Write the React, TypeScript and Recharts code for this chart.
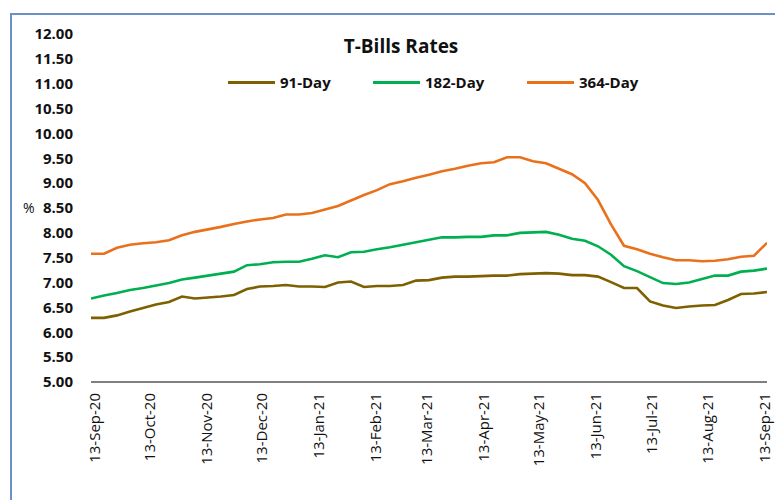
import React from 'react'
import { LineChart, Line, XAxis, YAxis } from 'recharts'

// weekly auction results, Sep-2020 .. Sep-2021
const rate91 = [
    6.29, 6.29, 6.34, 6.42, 6.49, 6.56, 6.61, 6.72, 6.68, 6.70,
    6.72, 6.75, 6.87, 6.92, 6.93, 6.95, 6.92, 6.92, 6.91, 7.00,
    7.02, 6.91, 6.93, 6.93, 6.95, 7.04, 7.05, 7.10, 7.12, 7.12,
    7.13, 7.14, 7.14, 7.17, 7.18, 7.19, 7.18, 7.15, 7.15, 7.12,
    7.01, 6.89, 6.89, 6.62, 6.54, 6.49, 6.52, 6.54, 6.55, 6.65,
    6.77, 6.78, 6.81,
]
const rate182 = [
    6.68, 6.74, 6.79, 6.85, 6.89, 6.94, 6.99, 7.06, 7.10, 7.14,
    7.18, 7.22, 7.35, 7.37, 7.41, 7.42, 7.42, 7.48, 7.55, 7.51,
    7.61, 7.62, 7.67, 7.71, 7.76, 7.81, 7.86, 7.91, 7.91, 7.92,
    7.92, 7.95, 7.95, 8.00, 8.01, 8.02, 7.96, 7.88, 7.84, 7.73,
    7.56, 7.33, 7.23, 7.11, 6.99, 6.97, 7.00, 7.07, 7.14, 7.14,
    7.22, 7.24, 7.28,
]
const rate364 = [
    7.58, 7.58, 7.70, 7.76, 7.79, 7.81, 7.85, 7.95, 8.02, 8.07,
    8.12, 8.18, 8.23, 8.27, 8.30, 8.37, 8.37, 8.40, 8.47, 8.54,
    8.65, 8.76, 8.86, 8.98, 9.04, 9.11, 9.17, 9.24, 9.29, 9.35,
    9.40, 9.42, 9.52, 9.52, 9.44, 9.40, 9.29, 9.18, 9.00, 8.66,
    8.17, 7.74, 7.67, 7.58, 7.51, 7.45, 7.45, 7.43, 7.44, 7.47,
    7.52, 7.54, 7.80,
]

const tickDates = [
    '2020-09-13', '2020-10-13', '2020-11-13', '2020-12-13', '2021-01-13',
    '2021-02-13', '2021-03-13', '2021-04-13', '2021-05-13', '2021-06-13',
    '2021-07-13', '2021-08-13', '2021-09-13',
]
const tickLabels = [
    '13-Sep-20', '13-Oct-20', '13-Nov-20', '13-Dec-20', '13-Jan-21',
    '13-Feb-21', '13-Mar-21', '13-Apr-21', '13-May-21', '13-Jun-21',
    '13-Jul-21', '13-Aug-21', '13-Sep-21',
]
const yTicks = [5, 5.5, 6, 6.5, 7, 7.5, 8, 8.5, 9, 9.5, 10, 10.5, 11, 11.5, 12]

// first and last auction dates covered by the axis
const AXIS_FROM = '2020-09-11'
const AXIS_TO = '2021-09-14'

const series = [
    { key: 'd91', name: '91-Day', color: '#7F6000' },
    { key: 'd182', name: '182-Day', color: '#00B050' },
    { key: 'd364', name: '364-Day', color: '#E9711C' },
]

const data = rate91.map((v, i) => ({ i, d91: v, d182: rate182[i], d364: rate364[i] }))

// place the month ticks on the week-index axis
const last = data.length - 1
const t0 = Date.parse(AXIS_FROM)
const t1 = Date.parse(AXIS_TO)
const tickPos = tickDates.map((d) => ((Date.parse(d) - t0) / (t1 - t0)) * last)

const FONT = '"Open Sans", sans-serif'

const DateTick = ({ x, y, payload }: any) => {
    let idx = 0
    tickPos.forEach((p, k) => { if (Math.abs(p - payload.value) < Math.abs(tickPos[idx] - payload.value)) idx = k })
    return (
        <g transform={`translate(${x},${y})`}>
            <text transform="rotate(-90)" x={-3} dy="0.35em" textAnchor="end"
                fontFamily={FONT} fontSize={15} fill="#111">
                {tickLabels[idx]}
            </text>
        </g>
    )
}

const legendLeft = [228, 373, 527]

const App = () => {
    return (
        <div style={{ position: 'absolute', left: 0, top: 0, width: 775, height: 500, background: '#fff', overflow: 'hidden' }}>
            <div style={{ position: 'absolute', left: 10, top: 13, width: 800, height: 520, borderLeft: '2px solid #6C8FC6', borderTop: '2px solid #6C8FC6' }} />

            <div style={{ position: 'absolute', left: 0, width: 802, top: 33, textAlign: 'center', fontFamily: FONT, fontWeight: 700, fontSize: 19, color: '#111', lineHeight: '26px' }}>
                T-Bills Rates
            </div>

            {/* Legend */}
            {series.map((s, k) => (
                <div key={s.key} style={{ position: 'absolute', left: legendLeft[k], top: 71, display: 'flex', alignItems: 'center', fontFamily: FONT, fontWeight: 700, fontSize: 15, color: '#111', lineHeight: '22px' }}>
                    <span style={{ display: 'inline-block', width: 47, height: 3, background: s.color, marginRight: 5 }} />
                    <span>{s.name}</span>
                </div>
            ))}

            <div style={{ position: 'absolute', left: 0, top: 0 }}>
                <LineChart width={775} height={500} data={data} margin={{ top: 34, right: 8, bottom: 0, left: 20 }}>
                    <XAxis dataKey="i" type="number" domain={[0, last]}
                        ticks={tickPos} tick={<DateTick />} tickLine={false} interval={0}
                        axisLine={{ stroke: '#000', strokeWidth: 1 }} height={118} allowDataOverflow />
                    <YAxis domain={[5, 12]} ticks={yTicks} interval={0} width={71} axisLine={false} tickLine={false}
                        tickMargin={12} tickFormatter={(v: number) => v.toFixed(2)}
                        tick={{ fontFamily: FONT, fontSize: 15, fontWeight: 700, fill: '#111' }}
                        label={{ value: '%', position: 'insideLeft', offset: 3, fontFamily: FONT, fontSize: 14, fill: '#111' }} />
                    {series.map((s) => (
                        <Line key={s.key} type="linear" dataKey={s.key} name={s.name} stroke={s.color}
                            strokeWidth={2.6} dot={false} isAnimationActive={false} />
                    ))}
                </LineChart>
            </div>
        </div>
    )
}

export default App
